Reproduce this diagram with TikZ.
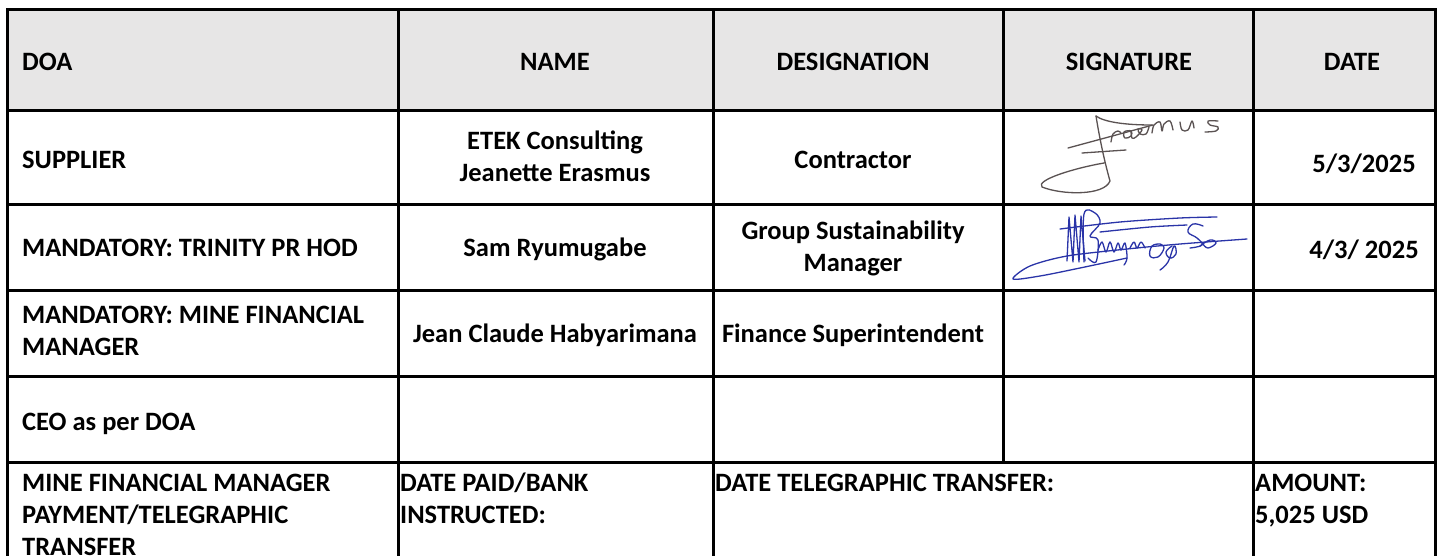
\documentclass[tikz,border=0pt]{standalone}
\usepackage{fontspec}
\setmainfont{Carlito}
\definecolor{headgray}{HTML}{E7E6E6}
\definecolor{sigbrown}{HTML}{5A5252}
\definecolor{sigblue}{HTML}{2A34A8}
\begin{document}
\begin{tikzpicture}[x=1pt,y=-1pt,
  rule/.style={line width=3pt},
  cellbase/.style={font=\bfseries\fontsize{26.5}{32}\selectfont, inner sep=0pt},
  cellL/.style={cellbase, anchor=base west, align=left},
  cellC/.style={cellbase, anchor=base, align=center},
  sigA/.style={draw=sigbrown, line width=1.3pt, line cap=round, line join=round},
  sigB/.style={draw=sigblue, line width=1.3pt, line cap=round, line join=round}]
\useasboundingbox (0,0) rectangle (1438,555);
\fill[white] (0,0) rectangle (1438,555);
\fill[headgray] (7,9) rectangle (1435,110);
% grid
\draw[rule, line cap=rect] (7,560) -- (7,9) -- (1435,9) -- (1435,560);
\foreach \yy in {110,204,290,376,462} \draw[rule] (7,\yy) -- (1435,\yy);
\draw[rule] (398,9) -- (398,560);
\draw[rule] (713,9) -- (713,560);
\draw[rule] (1003,9) -- (1003,462);
\draw[rule] (1253,9) -- (1253,560);
% header (baselines)
\node[cellL] (h1) at (22,70) {DOA};
\node[cellC] (h2) at (555,70) {NAME};
\node[cellC] (h3) at (853,70) {DESIGNATION};
\node[cellC] (h4) at (1129,70) {SIGNATURE};
\node[cellC] (h5) at (1352,70) {DATE};
% row 1
\node[cellL] (r1a) at (22,168) {SUPPLIER};
\node[cellC] (r1b) at (555,181) {ETEK Consulting\\Jeanette Erasmus};
\node[cellC] (r1c) at (853,168) {Contractor};
\node[cellC] (r1e) at (1364,172) {5/3/2025};
% row 2
\node[cellL] (r2a) at (22,256) {MANDATORY: TRINITY PR HOD};
\node[cellC] (r2b) at (555,256) {Sam Ryumugabe};
\node[cellC] (r2c) at (853,271) {Group Sustainability\\Manager};
\node[cellC] (r2e) at (1364,258) {4/3/ 2025};
% row 3
\node[cellL] (r3a) at (22,355) {MANDATORY: MINE FINANCIAL\\MANAGER};
\node[cellC] (r3b) at (555,342) {Jean Claude Habyarimana};
\node[cellC] (r3c) at (853,342) {Finance Superintendent};
% row 4
\node[cellL] (r4a) at (22,430) {CEO as per DOA};
% row 5
\node[cellL] (r5a) at (22,555) {MINE FINANCIAL MANAGER\\PAYMENT/TELEGRAPHIC\\TRANSFER};
\node[cellL] (r5b) at (400,523) {DATE PAID/BANK\\INSTRUCTED:};
\node[cellL] (r5c) at (715,491) {DATE TELEGRAPHIC TRANSFER:};
\node[cellL] (r5d) at (1255,523) {AMOUNT:\\5,025 USD};
% signature 1 (Erasmus)
\draw[sigA] (1096,116) .. controls (1099,135) and (1104,160) .. (1110,181)
  .. controls (1104,196) and (1062,195) .. (1042,187)
  .. controls (1035,180) and (1075,168) .. (1104,163);
\draw[sigA] (1096,116) .. controls (1104,122) and (1125,125) .. (1152,125);
\draw[sigA] (1068,148) -- (1153,125);
\draw[sigA] (1082,153) -- (1126,150);
\draw[sigA] plot[smooth, tension=0.6] coordinates {(1111,142) (1113,134) (1118,131) (1121,133)};
\draw[sigA] plot[smooth cycle, tension=0.7] coordinates {(1131,131) (1124,132) (1125,138) (1131,136)};
\draw[sigA] plot[smooth, tension=0.6] coordinates {(1131,131) (1132,138) (1136,137) (1142,130) (1138,129) (1140,134) (1146,134) (1149,127)};
\draw[sigA] plot[smooth, tension=0.6] coordinates {(1152,133) (1154,125) (1160,122) (1162,131) (1164,124) (1170,121) (1173,130)};
\draw[sigA] plot[smooth, tension=0.6] coordinates {(1180,122) (1182,130) (1188,130) (1192,121) (1194,128)};
\draw[sigA] plot[smooth, tension=0.6] coordinates {(1218,121) (1208,121) (1210,125) (1218,127) (1216,131) (1205,132)};
% signature 2 (Ryumugabe)
\draw[sigB] plot[smooth, tension=0.5] coordinates {(1247,239) (1180,244) (1127,249) (1067,256) (1030,266) (1013,279) (1040,276) (1080,268) (1127,258)};
\draw[sigB] plot[smooth, tension=0.5] coordinates {(1060,229) (1120,222) (1180,218) (1217,217)};
\draw[sigB] plot[smooth, tension=0.5] coordinates {(1100,232) (1150,227) (1187,225)};
\draw[sigB] (1067,261) -- (1069,217) -- (1073,262) -- (1075,215) -- (1079,262) -- (1081,216) -- (1085,261);
\draw[sigB] plot[smooth, tension=0.6] coordinates {(1084,262) (1084,214) (1095,213) (1100,223) (1090,236) (1098,240) (1096,262) (1088,258)};
\draw[sigB] plot[smooth, tension=0.6] coordinates {(1098,250) (1102,242) (1106,252) (1110,242) (1114,252) (1118,243) (1121,250) (1125,243) (1127,258) (1124,265)};
\draw[sigB] plot[smooth, tension=0.6] coordinates {(1130,248) (1134,242) (1137,248) (1141,242) (1145,248)};
\draw[sigB] plot[smooth, tension=0.7] coordinates {(1160,244) (1152,246) (1150,256) (1158,257) (1164,248) (1160,244)};
\draw[sigB] plot[smooth, tension=0.7] coordinates {(1172,246) (1166,252) (1170,258) (1176,254) (1174,246) (1168,262) (1160,270)};
\draw[sigB] plot[smooth, tension=0.7] coordinates {(1203,226) (1193,224) (1188,232) (1197,238) (1202,245) (1190,248)};
\draw[sigB] plot[smooth, tension=0.7] coordinates {(1200,246) (1210,240) (1216,243) (1208,248) (1203,244)};
\end{tikzpicture}
\end{document}
